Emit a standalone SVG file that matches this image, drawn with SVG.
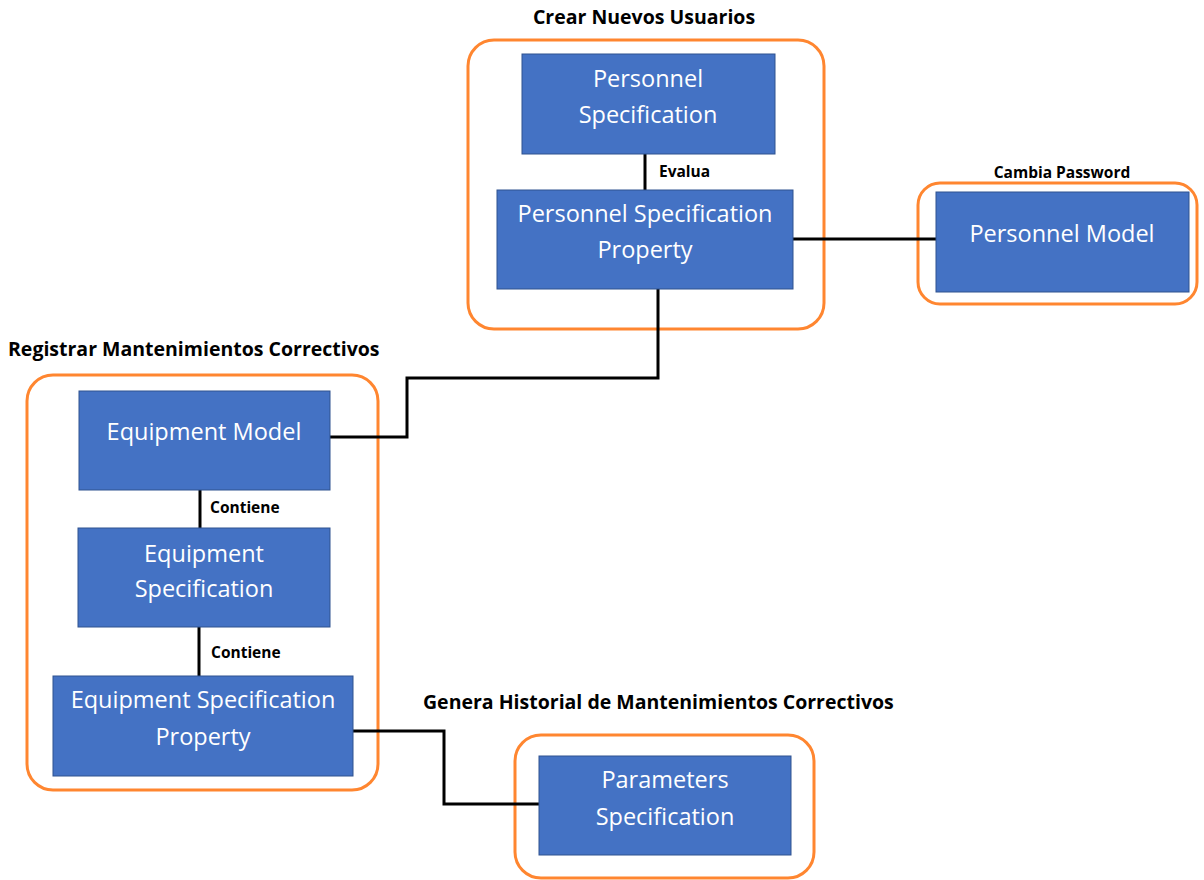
<svg xmlns="http://www.w3.org/2000/svg" width="1204" height="880" viewBox="0 0 1204 880">
<style>
.bg{fill:#ffffff}
.grp{fill:none;stroke:#FF8630;stroke-width:3}
.box{fill:#4472C4;stroke:#2F528F;stroke-width:1}
.bt{font-family:"Open Sans","Liberation Sans",sans-serif;font-size:23.5px;fill:#ffffff;text-anchor:middle}
.gl{font-family:"Open Sans","Liberation Sans",sans-serif;font-size:19.5px;font-weight:bold;fill:#000000}
.el{font-family:"Open Sans","Liberation Sans",sans-serif;font-size:15.5px;font-weight:bold;fill:#000000}
.con{fill:none;stroke:#000000;stroke-width:3}
</style>
<rect class="bg" x="0" y="0" width="1204" height="880"/>
<g id="group-crear">
<rect class="grp" x="468" y="40" width="356" height="289" rx="26"/>
<text class="gl" x="644" y="24" text-anchor="middle">Crear Nuevos Usuarios</text>
</g>
<g id="group-cambia">
<rect class="grp" x="918" y="183" width="279" height="121" rx="22"/>
<text class="el" x="1062" y="178" text-anchor="middle">Cambia Password</text>
</g>
<g id="group-registrar">
<rect class="grp" x="27" y="375" width="351" height="415" rx="26"/>
<text class="gl" x="8" y="356">Registrar Mantenimientos Correctivos</text>
</g>
<g id="group-genera">
<rect class="grp" x="515" y="735" width="299" height="143" rx="26"/>
<text class="gl" x="423" y="709">Genera Historial de Mantenimientos Correctivos</text>
</g>
<g id="connectors">
<line class="con" x1="645" y1="154" x2="645" y2="190"/>
<polyline class="con" points="793,239 936,239"/>
<polyline class="con" points="658,289 658,378 407,378 407,437 330,437"/>
<line class="con" x1="200" y1="490" x2="200" y2="528"/>
<line class="con" x1="199" y1="627" x2="199" y2="676"/>
<polyline class="con" points="353,731 444,731 444,804 539,804"/>
<text class="el" x="659" y="177">Evalua</text>
<text class="el" x="210" y="513">Contiene</text>
<text class="el" x="211" y="658">Contiene</text>
</g>
<g id="personnel-specification">
<rect class="box" x="522" y="54" width="253" height="100"/>
<text class="bt" x="648" y="87">Personnel</text>
<text class="bt" x="648" y="123">Specification</text>
</g>
<g id="personnel-specification-property">
<rect class="box" x="497" y="190" width="296" height="99"/>
<text class="bt" x="645" y="222">Personnel Specification</text>
<text class="bt" x="645" y="258">Property</text>
</g>
<g id="personnel-model">
<rect class="box" x="936" y="192" width="253" height="100"/>
<text class="bt" x="1062" y="242">Personnel Model</text>
</g>
<g id="equipment-model">
<rect class="box" x="79" y="391" width="251" height="99"/>
<text class="bt" x="204" y="440">Equipment Model</text>
</g>
<g id="equipment-specification">
<rect class="box" x="78" y="528" width="252" height="99"/>
<text class="bt" x="204" y="562">Equipment</text>
<text class="bt" x="204" y="597">Specification</text>
</g>
<g id="equipment-specification-property">
<rect class="box" x="53" y="676" width="300" height="100"/>
<text class="bt" x="203" y="708">Equipment Specification</text>
<text class="bt" x="203" y="745">Property</text>
</g>
<g id="parameters-specification">
<rect class="box" x="539" y="756" width="252" height="99"/>
<text class="bt" x="665" y="788">Parameters</text>
<text class="bt" x="665" y="825">Specification</text>
</g>
</svg>
